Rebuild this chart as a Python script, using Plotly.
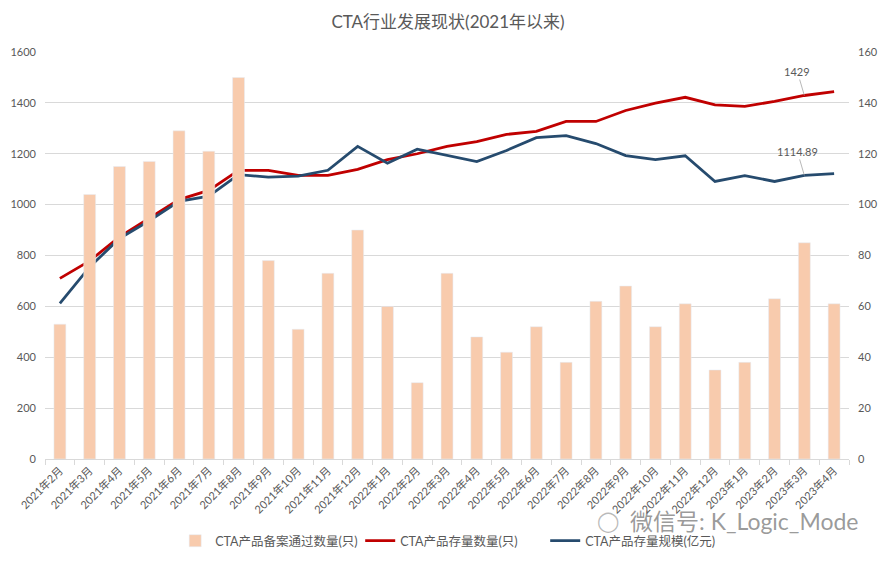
import plotly.graph_objects as go

months = ["2021年2月","2021年3月","2021年4月","2021年5月","2021年6月","2021年7月","2021年8月",
          "2021年9月","2021年10月","2021年11月","2021年12月","2022年1月","2022年2月","2022年3月",
          "2022年4月","2022年5月","2022年6月","2022年7月","2022年8月","2022年9月","2022年10月",
          "2022年11月","2022年12月","2023年1月","2023年2月","2023年3月","2023年4月"]

filed_count = [53,104,115,117,129,121,150,78,51,73,90,60,30,73,48,42,52,38,62,68,52,61,35,38,63,85,61]
stock_count = [710,779,873,948,1020,1056,1135,1135,1115,1115,1139,1177,1200,1229,1248,1276,1288,1327,
               1327,1370,1399,1422,1392,1386,1406,1429,1444]
stock_scale = [612,755,867,936,1013,1033,1118,1108,1112,1135,1229,1163,1218,1192,1169,1213,1263,1271,
               1240,1193,1177,1192,1091,1114,1091,1114.89,1122]

names = ["CTA产品备案通过数量(只)", "CTA产品存量数量(只)", "CTA产品存量规模(亿元)"]
FONT = "Lato, Noto Sans CJK SC, sans-serif"
GREY = "#595959"

fig = go.Figure()
fig.add_trace(go.Bar(x=months, y=filed_count, name=names[0], marker_color="#F8CBAD",
                     yaxis="y2"))
fig.add_trace(go.Scatter(x=months, y=stock_count, name=names[1], mode="lines",
                         line=dict(color="#C00000", width=2.8)))
fig.add_trace(go.Scatter(x=months, y=stock_scale, name=names[2], mode="lines",
                         line=dict(color="#264B6E", width=2.8)))

fig.add_annotation(x=months[25], y=stock_count[25], text="1429", showarrow=True,
                   arrowhead=0, arrowwidth=0.8, arrowcolor="#a6a6a6", ax=-7, ay=-24,
                   font=dict(size=11, color=GREY, family=FONT))
fig.add_annotation(x=months[25], y=stock_scale[25], text="1114.89", showarrow=True,
                   arrowhead=0, arrowwidth=0.8, arrowcolor="#a6a6a6", ax=-7, ay=-24,
                   font=dict(size=11, color=GREY, family=FONT))
fig.add_annotation(xref="paper", yref="paper", x=1.014, y=-0.152, xanchor="right", yanchor="middle",
                   text="微信号: K_Logic_Mode", showarrow=False,
                   font=dict(size=23, color="rgba(110,110,110,0.7)", family=FONT))
fig.add_annotation(xref="paper", yref="paper", x=0.7, y=-0.152, xanchor="center", yanchor="middle",
                   text="◯", showarrow=False,
                   font=dict(size=20, color="rgba(140,140,140,0.6)", family="DejaVu Sans"))

fig.update_layout(
    width=880, height=553,
    margin=dict(l=37, r=39, t=44, b=102),
    paper_bgcolor="white", plot_bgcolor="white",
    title=dict(text="CTA行业发展现状(2021年以来)", x=0.5, xanchor="center", y=0.975, yanchor="middle",
               font=dict(size=17, color=GREY, family=FONT)),
    font=dict(family=FONT, color=GREY, size=11),
    bargap=0.6,
    xaxis=dict(type="category", tickangle=-45, tickfont=dict(size=11, color=GREY),
               showline=True, linecolor="#d9d9d9", ticks="outside", tickson="boundaries",
               tickcolor="#d9d9d9", ticklen=5, showgrid=False, automargin=False),
    yaxis=dict(range=[0, 1600], dtick=200, showgrid=True, gridcolor="#d9d9d9",
               zeroline=False, tickfont=dict(size=11, color=GREY), ticklabelstandoff=8,
               automargin=False),
    yaxis2=dict(range=[0, 160], dtick=20, overlaying="y", side="right", showgrid=False,
                zeroline=False, tickfont=dict(size=11, color=GREY), ticklabelstandoff=8,
                automargin=False),
    legend=dict(orientation="h", xref="container", yref="container", x=0.19, xanchor="left",
                y=0.036, yanchor="middle", font=dict(size=12.5, color=GREY),
                traceorder="normal", itemwidth=30, entrywidth=140, entrywidthmode="pixels"),
)

fig.write_html("out.html")
